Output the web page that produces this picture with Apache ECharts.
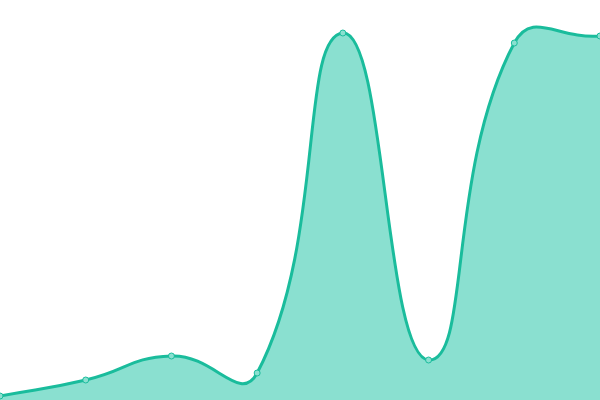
<!DOCTYPE html>
<html>
<head>
<meta charset="utf-8">
<script src="https://cdn.jsdelivr.net/npm/echarts@6/dist/echarts.min.js"></script>
<style>html,body{margin:0;padding:0;background:#fff}#c{width:600px;height:400px}</style>
</head>
<body>
<div id="c"></div>
<script>
var categories = ['A', 'B', 'C', 'D', 'E', 'F', 'G', 'H'];
var values = [4, 20, 44, 27, 367, 40, 357, 364];

var SMOOTH = 0.5;

function buildCurve(pts) {
  // Unclamped smooth bezier (classic ECharts v4 style)
  var n = pts.length;
  var cps = [];
  for (var i = 0; i < n; i++) {
    var p = pts[i];
    var prev = pts[i - 1] || p;
    var next = pts[i + 1] || p;
    var vx = (next[0] - prev[0]) * SMOOTH;
    var vy = (next[1] - prev[1]) * SMOOTH;
    var d0 = Math.hypot(p[0] - prev[0], p[1] - prev[1]);
    var d1 = Math.hypot(p[0] - next[0], p[1] - next[1]);
    var sum = d0 + d1;
    if (sum !== 0) { d0 /= sum; d1 /= sum; }
    cps.push({
      c0: [p[0] - vx * d0, p[1] - vy * d0],
      c1: [p[0] + vx * d1, p[1] + vy * d1]
    });
  }
  var d = 'M' + pts[0][0] + ' ' + pts[0][1];
  for (var j = 1; j < n; j++) {
    var a = cps[j - 1].c1, b = cps[j].c0, e = pts[j];
    d += ' C' + a[0] + ' ' + a[1] + ' ' + b[0] + ' ' + b[1] + ' ' + e[0] + ' ' + e[1];
  }
  return d;
}

var chart = echarts.init(document.getElementById('c'));
chart.setOption({
  animation: false,
  grid: { left: 0, right: 0, top: 0, bottom: 0 },
  xAxis: { type: 'category', data: categories, boundaryGap: false, show: false },
  yAxis: { type: 'value', min: 0, max: 400, show: false },
  series: [{
    type: 'custom',
    coordinateSystem: 'cartesian2d',
    data: values.map(function (v, i) { return [i, v]; }),
    clip: false,
    renderItem: function (params, api) {
      if (params.dataIndex !== 0) return null;
      var pts = values.map(function (v, i) { return api.coord([i, v]); });
      var line = buildCurve(pts);
      var base0 = api.coord([0, 0]);
      var baseN = api.coord([values.length - 1, 0]);
      var area = line + ' L' + baseN[0] + ' ' + baseN[1] + ' L' + base0[0] + ' ' + base0[1] + ' Z';
      return {
        type: 'group',
        children: [
          { type: 'path', shape: { pathData: area }, style: { fill: '#8ae0d0', stroke: null } },
          { type: 'path', shape: { pathData: line }, style: { fill: null, stroke: '#1abc9c', lineWidth: 3 } }
        ]
      };
    }
  }, {
    type: 'scatter',
    data: values,
    symbol: 'circle',
    symbolSize: 6,
    itemStyle: { color: '#8ae0d0', borderColor: '#1abc9c', borderWidth: 1, opacity: 1 },
    z: 5
  }]
});
</script>
</body>
</html>
